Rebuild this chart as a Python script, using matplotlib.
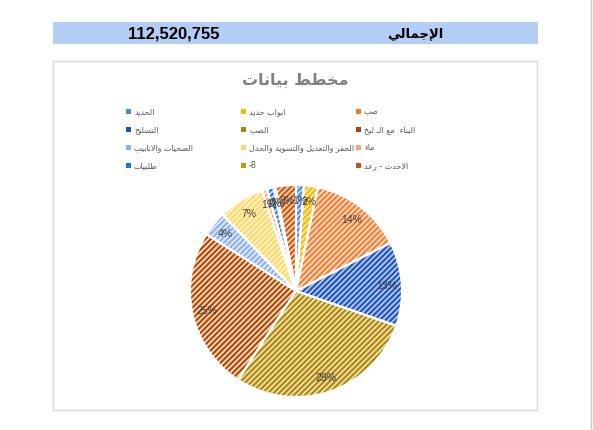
import matplotlib
matplotlib.use("Agg")
import matplotlib.pyplot as plt
from matplotlib.patches import Rectangle

# ---- data ----
categories = ["الحديد", "ابواب حديد", "صب", "التسليح", "الصب", "البناء  مع الـ ليخ",
              "الصحيات والانابيب", "الحفر والتعديل والتسوية والحدل", "ماء", "طلبيات",
              "-8", "الاحدث - رعد"]
amounts = [1350000, 2363000, 15978000, 14403000, 32518000, 27905000,
           4276000, 7876000, 900000, 1125000, 338000, 3488755]
series_colors = ["#4A86E0", "#F5B800", "#F07C2E", "#1F4EB4", "#A88410", "#A3450C",
                 "#8AB0EA", "#FFD760", "#F6A572", "#1F6FE0", "#C99A10", "#C2560E"]
fill_colors = ["#BCD5F5", "#FFE7A0", "#FFD7BC", "#A9C6F2", "#F0DD9C", "#FFD3AE",
               "#DCE8FA", "#FFF3CC", "#FFE3D0", "#C0D6F5", "#F2DB9A", "#F7C9A5"]
title = "مخطط بيانات"
total_label = "الإجمالي"

# ---- minimal arabic shaping (presentation forms) ----
FORMS = {
    "ء": (0xFE80, None, None, None), "آ": (0xFE81, 0xFE82, None, None),
    "أ": (0xFE83, 0xFE84, None, None), "ؤ": (0xFE85, 0xFE86, None, None),
    "إ": (0xFE87, 0xFE88, None, None), "ئ": (0xFE89, 0xFE8A, 0xFE8B, 0xFE8C),
    "ا": (0xFE8D, 0xFE8E, None, None), "ب": (0xFE8F, 0xFE90, 0xFE91, 0xFE92),
    "ة": (0xFE93, 0xFE94, None, None), "ت": (0xFE95, 0xFE96, 0xFE97, 0xFE98),
    "ث": (0xFE99, 0xFE9A, 0xFE9B, 0xFE9C), "ج": (0xFE9D, 0xFE9E, 0xFE9F, 0xFEA0),
    "ح": (0xFEA1, 0xFEA2, 0xFEA3, 0xFEA4), "خ": (0xFEA5, 0xFEA6, 0xFEA7, 0xFEA8),
    "د": (0xFEA9, 0xFEAA, None, None), "ذ": (0xFEAB, 0xFEAC, None, None),
    "ر": (0xFEAD, 0xFEAE, None, None), "ز": (0xFEAF, 0xFEB0, None, None),
    "س": (0xFEB1, 0xFEB2, 0xFEB3, 0xFEB4), "ش": (0xFEB5, 0xFEB6, 0xFEB7, 0xFEB8),
    "ص": (0xFEB9, 0xFEBA, 0xFEBB, 0xFEBC), "ض": (0xFEBD, 0xFEBE, 0xFEBF, 0xFEC0),
    "ط": (0xFEC1, 0xFEC2, 0xFEC3, 0xFEC4), "ظ": (0xFEC5, 0xFEC6, 0xFEC7, 0xFEC8),
    "ع": (0xFEC9, 0xFECA, 0xFECB, 0xFECC), "غ": (0xFECD, 0xFECE, 0xFECF, 0xFED0),
    "ف": (0xFED1, 0xFED2, 0xFED3, 0xFED4), "ق": (0xFED5, 0xFED6, 0xFED7, 0xFED8),
    "ك": (0xFED9, 0xFEDA, 0xFEDB, 0xFEDC), "ل": (0xFEDD, 0xFEDE, 0xFEDF, 0xFEE0),
    "م": (0xFEE1, 0xFEE2, 0xFEE3, 0xFEE4), "ن": (0xFEE5, 0xFEE6, 0xFEE7, 0xFEE8),
    "ه": (0xFEE9, 0xFEEA, 0xFEEB, 0xFEEC), "و": (0xFEED, 0xFEEE, None, None),
    "ى": (0xFEEF, 0xFEF0, None, None), "ي": (0xFEF1, 0xFEF2, 0xFEF3, 0xFEF4),
}
LAM_ALEF = {"آ": (0xFEF5, 0xFEF6), "أ": (0xFEF7, 0xFEF8),
            "إ": (0xFEF9, 0xFEFA), "ا": (0xFEFB, 0xFEFC)}
TATWEEL = "\u0640"


def is_dual(c):
    return c == TATWEEL or (c in FORMS and FORMS[c][2] is not None)


def joins_right(c):
    return c == TATWEEL or (c in FORMS and FORMS[c][1] is not None)


def ar(text):
    if not any(c in FORMS for c in text):
        return text
    out = []
    i = 0
    n = len(text)
    while i < n:
        c = text[i]
        if c not in FORMS:
            out.append(c)
            i += 1
            continue
        prev_conn = i > 0 and is_dual(text[i - 1]) and joins_right(c)
        if c == "ل" and i + 1 < n and text[i + 1] in LAM_ALEF:
            lig = LAM_ALEF[text[i + 1]]
            out.append(chr(lig[1] if prev_conn else lig[0]))
            i += 2
            continue
        next_conn = is_dual(c) and i + 1 < n and joins_right(text[i + 1])
        iso, fin, ini, med = FORMS[c]
        if prev_conn and next_conn:
            code = med
        elif prev_conn:
            code = fin
        elif next_conn:
            code = ini
        else:
            code = iso
        out.append(chr(code))
        i += 1
    return "".join(reversed(out))


plt.rcParams["font.family"] = ["Liberation Sans", "DejaVu Sans"]
plt.rcParams["hatch.linewidth"] = 1.4

W, H = 593, 431
fig = plt.figure(figsize=(W / 100, H / 100), dpi=100)


def fx(px):
    return px / W


def fy(py):
    return 1 - py / H


# header band
fig.patches.append(Rectangle((fx(53), fy(45)), fx(538) - fx(53), fy(23) - fy(45),
                             transform=fig.transFigure, facecolor="#B4CDF5",
                             edgecolor="none", zorder=-2))
fig.text(fx(174), fy(34), f"{sum(amounts):,}", ha="center", va="center",
         fontsize=12, fontweight="bold", color="black")
fig.text(fx(415), fy(34), ar(total_label), ha="center", va="center",
         fontsize=9.5, fontweight="bold", color="black", family=["DejaVu Sans"])

# chart frame and sheet line
fig.patches.append(Rectangle((fx(53), fy(411)), fx(537) - fx(53), fy(62) - fy(411),
                             transform=fig.transFigure, facecolor="white",
                             edgecolor="#D9D9D9", linewidth=1, zorder=-2))
fig.lines.append(plt.Line2D([fx(591), fx(591)], [0, 1], transform=fig.transFigure,
                            color="#C8C8C8", linewidth=1, zorder=-2))

fig.text(fx(295), fy(80), ar(title), ha="center", va="center", fontsize=11.5,
         fontweight="bold", color="#808080", family=["DejaVu Sans"])

# legend
col_x = [128, 243, 358]
for i, (name, col) in enumerate(zip(categories, series_colors)):
    r, c = divmod(i, 3)
    x0 = col_x[c]
    y0 = 112 + 18 * r
    fig.patches.append(Rectangle((fx(x0 - 2.5), fy(y0 + 2.5)), 5 / W, 5 / H,
                                 transform=fig.transFigure, facecolor=col,
                                 edgecolor="none"))
    fig.text(fx(x0 + 6), fy(y0), ar(name), ha="left", va="center", fontsize=5.8,
             color="#595959", family=["DejaVu Sans"])

# pie
cx, cy, R = 296, 292, 106
ax = fig.add_axes([fx(cx - 1.1 * R), fy(cy + 1.1 * R), 2.2 * R / W, 2.2 * R / H])
ax.set_zorder(2)
wedges, _, autotexts = ax.pie(amounts, startangle=90, counterclock=False,
                              autopct=lambda p: f"{p:.0f}%", pctdistance=0.86,
                              wedgeprops=dict(linewidth=0),
                              textprops=dict(fontsize=7.5, color="#404040"))
for w, fc, hc in zip(wedges, fill_colors, series_colors):
    w.set_facecolor(fc)
    w.set_edgecolor(hc)
    w.set_hatch("//////")
# white separators between slices
ax.pie(amounts, startangle=90, counterclock=False,
       wedgeprops=dict(facecolor="none", edgecolor="white", linewidth=1.5))
for t in autotexts:
    t.set_zorder(5)
ax.set_xlim(-1.1, 1.1)
ax.set_ylim(-1.1, 1.1)
ax.axis("off")

fig.savefig("out.png", dpi=100)
